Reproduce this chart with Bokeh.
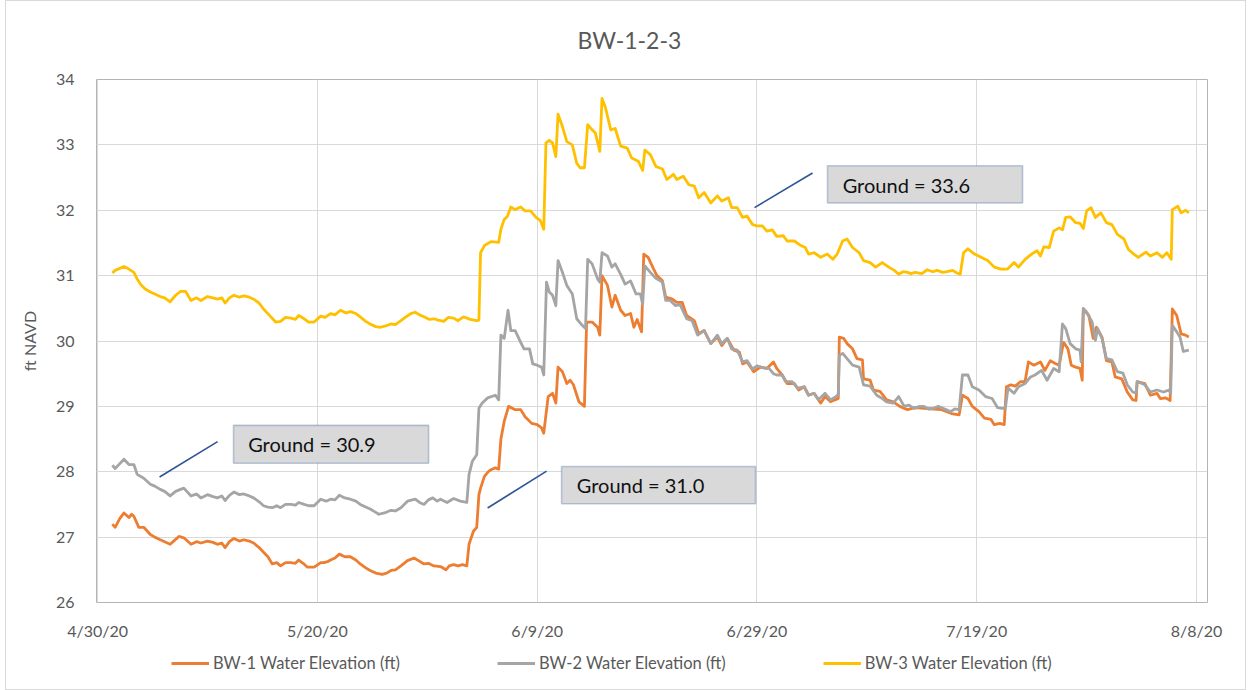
import pandas as pd
from bokeh.plotting import figure
from bokeh.layouts import column
from bokeh.models import (ColumnDataSource, FixedTicker, Legend, LegendItem,
                          BoxAnnotation, Label, Range1d)
from bokeh.embed import file_html
from bokeh.resources import INLINE

# ---------------- data ----------------
START_DATE = "2020-04-30"
x_tick_labels = ["4/30/20", "5/20/20", "6/9/20", "6/29/20", "7/19/20", "8/8/20"]
y_ticks = [26, 27, 28, 29, 30, 31, 32, 33, 34]
chart_title = "BW-1-2-3"
y_label = "ft NAVD"
series_names = ["BW-1 Water Elevation (ft)", "BW-2 Water Elevation (ft)",
                "BW-3 Water Elevation (ft)"]
series_colors = ["#ED7D31", "#A5A5A5", "#FFC000"]
ground_labels = ["Ground = 30.9", "Ground = 31.0", "Ground = 33.6"]

# days after 4/30/20
bw1_days = [1.34, 1.6, 2.0, 2.4, 2.85, 3.1, 3.3, 3.75, 4.2, 4.8, 5.2, 5.7, 6.1, 6.6, 7.0, 7.4,
            7.85, 8.5, 9.0, 9.4, 10.0, 10.5, 10.9, 11.3, 11.6, 12.0, 12.4, 12.9, 13.3, 13.8,
            14.2, 14.7, 15.1, 15.5, 15.9, 16.3, 16.65, 17.1, 17.6, 18.0, 18.3, 18.7, 19.1,
            19.7, 20.3, 20.6, 21.0, 21.2, 21.6, 22.0, 22.5, 23.0, 23.5, 23.9, 24.4, 24.8,
            25.3, 25.9, 26.3, 26.7, 27.1, 27.6, 28.2, 28.8, 29.2, 29.7, 30.1, 30.6, 31.2,
            31.7, 32.0, 32.4, 32.8, 33.2, 33.6, 33.8, 34.2, 34.5, 34.7, 34.85, 35.2, 35.6,
            35.8, 36.2, 36.5, 36.7, 37.0, 37.4, 38.0, 38.5, 38.9, 39.5, 40.0, 40.4, 40.6,
            41.0, 41.4, 41.7, 41.9, 42.3, 42.7, 43.0, 43.3, 43.8, 44.3, 44.5, 45.0, 45.5,
            45.7, 45.9, 46.4, 46.8, 47.1, 47.6, 48.0, 48.5, 48.8, 49.1, 49.5, 49.7, 50.1,
            50.6, 50.9, 51.4, 51.7, 52.3, 52.7, 53.2, 53.6, 54.3, 54.7, 55.2, 55.8, 56.4,
            56.8, 57.3, 57.9, 58.4, 58.7, 59.1, 59.7, 60.3, 60.9, 61.5, 61.8, 62.3, 62.75,
            63.4, 63.8, 64.3, 64.7, 65.2, 65.8, 66.2, 66.7, 67.1, 67.4, 67.5, 67.9, 68.2,
            68.7, 69.1, 69.6, 69.7, 70.3, 70.6, 71.2, 71.8, 72.4, 73.0, 73.7, 74.4, 75.2,
            76.1, 76.8, 77.7, 78.4, 78.7, 79.2, 79.6, 80.2, 80.7, 81.3, 81.6, 82.1, 82.5,
            82.7, 83.1, 83.5, 84.0, 84.4, 84.7, 85.2, 85.8, 86.2, 86.7, 87.1, 87.5, 87.9,
            88.3, 88.6, 89.0, 89.4, 89.6, 89.7, 90.2, 90.6, 90.9, 91.4, 91.8, 92.3, 92.6,
            93.2, 93.7, 94.2, 94.5, 94.6, 95.3, 95.8, 96.4, 96.7, 97.2, 97.6, 97.8, 98.2,
            98.6, 99.0, 99.3]
bw1_ft = [27.20, 27.15, 27.28, 27.37, 27.30, 27.35, 27.32, 27.15, 27.15, 27.04, 27.00, 26.96,
          26.93, 26.89, 26.95, 27.01, 26.99, 26.89, 26.93, 26.91, 26.94, 26.92, 26.89, 26.91,
          26.84, 26.93, 26.98, 26.94, 26.96, 26.94, 26.91, 26.84, 26.77, 26.70, 26.59, 26.61,
          26.56, 26.61, 26.61, 26.60, 26.65, 26.60, 26.54, 26.54, 26.61, 26.61, 26.63, 26.65,
          26.68, 26.74, 26.70, 26.70, 26.65, 26.59, 26.53, 26.49, 26.45, 26.43, 26.45, 26.49,
          26.50, 26.56, 26.64, 26.68, 26.64, 26.59, 26.60, 26.56, 26.55, 26.50, 26.56, 26.58,
          26.56, 26.58, 26.56, 26.89, 27.09, 27.15, 27.65, 27.75, 27.93, 28.01, 28.03, 28.06,
          28.04, 28.50, 28.77, 29.00, 28.95, 28.95, 28.84, 28.74, 28.72, 28.67, 28.59, 29.15,
          29.20, 29.05, 29.60, 29.53, 29.35, 29.40, 29.33, 29.07, 29.00, 30.29, 30.29, 30.21,
          30.09, 31.00, 30.85, 30.52, 30.70, 30.47, 30.39, 30.42, 30.21, 30.33, 30.14, 31.33,
          31.28, 31.10, 31.00, 30.92, 30.67, 30.64, 30.59, 30.59, 30.39, 30.31, 30.11, 30.16,
          29.96, 30.06, 29.93, 30.04, 29.86, 29.83, 29.65, 29.68, 29.53, 29.60, 29.58, 29.68,
          29.58, 29.48, 29.35, 29.35, 29.25, 29.30, 29.17, 29.20, 29.05, 29.15, 29.07, 29.10,
          29.12, 30.06, 30.04, 29.96, 29.88, 29.73, 29.71, 29.42, 29.40, 29.25, 29.23, 29.10,
          29.07, 29.00, 28.95, 28.98, 28.97, 28.96, 28.95, 28.89, 28.87, 29.17, 29.12, 29.00,
          28.92, 28.82, 28.80, 28.72, 28.74, 28.72, 29.30, 29.33, 29.31, 29.38, 29.38, 29.68,
          29.63, 29.68, 29.55, 29.70, 29.66, 29.63, 29.98, 29.88, 29.63, 29.60, 29.58, 29.40,
          30.49, 30.39, 30.04, 30.21, 30.06, 29.70, 29.68, 29.45, 29.42, 29.22, 29.10, 29.09,
          29.38, 29.35, 29.17, 29.20, 29.12, 29.13, 29.09, 30.49, 30.39, 30.11, 30.09, 30.06]

bw2_days = [1.34, 1.6, 2.0, 2.4, 2.85, 3.3, 3.6, 4.2, 4.8, 5.2, 5.7, 6.1, 6.6, 7.1, 7.55, 7.85,
            8.5, 9.0, 9.4, 10.0, 10.5, 10.9, 11.3, 11.6, 12.0, 12.4, 12.9, 13.3, 13.8, 14.2,
            14.7, 15.1, 15.5, 15.9, 16.3, 16.65, 17.1, 17.6, 18.0, 18.3, 18.8, 19.2, 19.7,
            20.3, 20.8, 21.2, 21.6, 22.0, 22.5, 23.0, 23.5, 23.9, 24.4, 24.8, 25.2, 25.6,
            26.1, 26.7, 27.1, 27.6, 28.2, 28.9, 29.3, 29.7, 30.1, 30.5, 30.9, 31.2, 31.8,
            32.4, 33.0, 33.6, 33.8, 34.1, 34.5, 34.7, 35.0, 35.5, 36.2, 36.5, 36.7, 37.0,
            37.35, 37.6, 38.0, 38.5, 38.8, 39.3, 39.6, 40.0, 40.4, 40.6, 40.85, 41.1, 41.4,
            41.7, 41.9, 42.3, 42.7, 43.2, 43.6, 44.1, 44.4, 44.6, 45.0, 45.5, 45.7, 45.9,
            46.4, 46.8, 47.1, 47.6, 48.0, 48.5, 49.0, 49.4, 49.6, 49.8, 50.3, 50.8, 51.4,
            51.7, 52.1, 52.6, 53.0, 53.6, 54.1, 54.6, 55.2, 55.8, 56.4, 56.8, 57.3, 57.7,
            58.2, 58.7, 59.1, 59.6, 60.0, 60.6, 61.1, 61.5, 61.8, 62.3, 62.6, 63.2, 63.7,
            64.3, 64.7, 65.2, 65.6, 66.2, 66.7, 67.1, 67.4, 67.5, 67.8, 68.2, 68.7, 69.3,
            69.7, 70.3, 70.9, 71.4, 71.8, 72.4, 72.9, 73.4, 73.8, 74.3, 74.8, 75.2, 75.6,
            76.1, 76.5, 76.8, 77.2, 77.6, 78.0, 78.4, 78.7, 79.2, 79.6, 80.2, 80.8, 81.4,
            81.9, 82.3, 82.6, 82.85, 83.4, 83.8, 84.4, 84.9, 85.3, 85.9, 86.4, 87.0, 87.5,
            87.8, 88.1, 88.5, 89.0, 89.4, 89.5, 89.7, 90.0, 90.5, 90.8, 91.0, 91.4, 91.8,
            92.3, 92.8, 93.3, 93.7, 94.2, 94.5, 94.6, 95.3, 95.8, 96.4, 97.0, 97.5, 97.65,
            97.8, 98.2, 98.5, 98.8, 99.3]
bw2_ft = [28.10, 28.05, 28.12, 28.19, 28.11, 28.11, 27.96, 27.90, 27.81, 27.78, 27.73, 27.70,
          27.63, 27.70, 27.73, 27.75, 27.63, 27.66, 27.60, 27.65, 27.62, 27.60, 27.63, 27.56,
          27.64, 27.69, 27.65, 27.66, 27.63, 27.60, 27.54, 27.48, 27.46, 27.45, 27.48, 27.45,
          27.50, 27.50, 27.49, 27.53, 27.50, 27.48, 27.48, 27.58, 27.55, 27.58, 27.57, 27.64,
          27.60, 27.58, 27.55, 27.50, 27.46, 27.43, 27.39, 27.35, 27.37, 27.41, 27.40, 27.45,
          27.55, 27.58, 27.53, 27.50, 27.57, 27.60, 27.55, 27.58, 27.53, 27.59, 27.55, 27.53,
          27.96, 28.16, 28.26, 28.97, 29.05, 29.13, 29.17, 29.10, 30.09, 30.04, 30.47, 30.16,
          30.16, 29.98, 29.88, 29.88, 29.65, 29.63, 29.60, 29.48, 30.90, 30.75, 30.70, 30.54,
          31.23, 31.05, 30.85, 30.72, 30.34, 30.24, 30.19, 31.25, 31.18, 30.95, 30.90, 31.35,
          31.30, 31.13, 31.18, 31.02, 30.87, 30.92, 30.72, 30.72, 30.56, 31.15, 31.05, 30.96,
          30.90, 30.62, 30.62, 30.54, 30.56, 30.34, 30.31, 30.09, 30.16, 29.96, 30.09, 29.96,
          30.04, 29.88, 29.86, 29.68, 29.70, 29.57, 29.62, 29.59, 29.58, 29.50, 29.48, 29.48,
          29.38, 29.38, 29.28, 29.30, 29.17, 29.20, 29.10, 29.20, 29.10, 29.14, 29.18, 29.78,
          29.81, 29.73, 29.63, 29.60, 29.33, 29.31, 29.17, 29.12, 29.07, 29.05, 29.15, 29.00,
          29.02, 28.97, 29.00, 29.00, 28.96, 28.97, 29.00, 28.98, 28.95, 28.92, 28.96, 28.95,
          29.48, 29.48, 29.30, 29.25, 29.15, 29.12, 28.98, 28.97, 28.97, 29.28, 29.20, 29.30,
          29.35, 29.45, 29.48, 29.55, 29.40, 29.58, 29.53, 30.26, 30.19, 29.96, 29.88, 29.86,
          29.68, 30.50, 30.44, 30.29, 30.01, 30.19, 30.04, 29.73, 29.71, 29.53, 29.51, 29.33,
          29.22, 29.20, 29.38, 29.33, 29.22, 29.25, 29.22, 29.25, 29.20, 30.24, 30.14, 30.06,
          29.84, 29.86]

bw3_days = [1.34, 1.6, 2.4, 2.85, 3.3, 3.6, 3.9, 4.3, 4.8, 5.2, 5.7, 6.1, 6.6, 7.1, 7.55, 8.0,
            8.5, 9.0, 9.4, 10.0, 10.5, 10.9, 11.3, 11.6, 12.0, 12.4, 12.9, 13.3, 13.8, 14.2,
            14.7, 15.1, 15.6, 16.2, 16.65, 17.1, 17.6, 18.0, 18.3, 18.8, 19.2, 19.7, 20.3,
            20.7, 21.2, 21.6, 22.1, 22.6, 23.0, 23.5, 23.9, 24.4, 24.8, 25.3, 25.75, 26.2,
            26.7, 27.1, 27.6, 28.0, 28.5, 28.9, 29.3, 29.7, 30.2, 30.6, 31.0, 31.5, 31.9,
            32.4, 32.8, 33.3, 33.9, 34.5, 34.7, 34.85, 35.2, 35.8, 36.5, 36.7, 37.0, 37.3,
            37.6, 38.0, 38.5, 38.9, 39.4, 39.9, 40.3, 40.6, 40.8, 41.1, 41.4, 41.7, 41.9,
            42.3, 42.7, 43.2, 43.6, 43.9, 44.3, 44.6, 45.0, 45.3, 45.7, 45.9, 46.2, 46.7,
            47.1, 47.6, 48.2, 48.6, 49.2, 49.6, 49.8, 50.3, 50.8, 51.4, 51.8, 52.4, 52.7,
            53.3, 53.8, 54.3, 54.7, 55.2, 55.8, 56.4, 56.8, 57.4, 57.7, 58.2, 58.7, 59.1,
            59.6, 60.0, 60.5, 60.9, 61.4, 61.8, 62.4, 62.75, 63.4, 64.0, 64.4, 64.7, 65.2,
            65.8, 66.4, 66.9, 67.3, 67.8, 68.2, 68.7, 69.3, 69.7, 70.3, 70.8, 71.4, 72.0,
            72.5, 72.9, 73.3, 73.7, 74.0, 74.4, 75.0, 75.5, 76.0, 76.4, 76.9, 77.3, 77.8,
            78.2, 78.5, 78.8, 79.2, 79.8, 80.4, 81.0, 81.6, 82.2, 82.8, 83.4, 83.8, 84.4,
            85.0, 85.5, 85.8, 86.1, 86.6, 87.0, 87.5, 87.8, 88.1, 88.5, 89.0, 89.4, 89.7,
            90.0, 90.4, 90.8, 91.3, 91.8, 92.3, 92.8, 93.4, 93.8, 94.3, 94.7, 95.4, 95.8,
            96.4, 96.9, 97.3, 97.7, 97.8, 98.3, 98.6, 99.0, 99.3]
bw3_ft = [31.04, 31.08, 31.14, 31.10, 31.05, 30.95, 30.87, 30.80, 30.75, 30.72, 30.68, 30.66,
          30.60, 30.70, 30.76, 30.76, 30.62, 30.66, 30.62, 30.68, 30.66, 30.64, 30.66, 30.58,
          30.66, 30.70, 30.67, 30.69, 30.67, 30.64, 30.58, 30.49, 30.40, 30.29, 30.30, 30.36,
          30.35, 30.33, 30.39, 30.34, 30.29, 30.29, 30.38, 30.36, 30.42, 30.40, 30.47, 30.43,
          30.45, 30.42, 30.37, 30.30, 30.26, 30.22, 30.21, 30.23, 30.26, 30.25, 30.31, 30.36,
          30.42, 30.44, 30.40, 30.37, 30.33, 30.34, 30.32, 30.30, 30.36, 30.35, 30.31, 30.37,
          30.33, 30.31, 30.32, 31.35, 31.46, 31.52, 31.51, 31.71, 31.86, 31.91, 32.05, 32.01,
          32.05, 31.99, 31.99, 31.89, 31.84, 31.71, 33.03, 33.07, 33.03, 32.82, 33.47, 33.28,
          33.05, 33.00, 32.72, 32.65, 32.65, 33.31, 33.23, 33.18, 32.90, 33.71, 33.58, 33.23,
          33.25, 32.98, 32.95, 32.80, 32.75, 32.61, 32.92, 32.85, 32.67, 32.63, 32.47, 32.55,
          32.47, 32.52, 32.39, 32.37, 32.19, 32.27, 32.11, 32.22, 32.14, 32.19, 32.04, 32.04,
          31.89, 31.91, 31.78, 31.76, 31.76, 31.68, 31.70, 31.60, 31.61, 31.53, 31.53, 31.46,
          31.43, 31.33, 31.35, 31.28, 31.33, 31.25, 31.33, 31.53, 31.56, 31.43, 31.35, 31.23,
          31.20, 31.13, 31.20, 31.13, 31.08, 31.02, 31.06, 31.05, 31.03, 31.05, 31.03, 31.09,
          31.06, 31.08, 31.05, 31.06, 31.08, 31.04, 31.02, 31.35, 31.41, 31.33, 31.28, 31.23,
          31.13, 31.10, 31.10, 31.20, 31.13, 31.25, 31.33, 31.38, 31.30, 31.44, 31.43, 31.68,
          31.73, 31.70, 31.89, 31.90, 31.81, 31.80, 31.72, 31.99, 32.04, 31.89, 31.96, 31.81,
          31.78, 31.63, 31.56, 31.40, 31.33, 31.28, 31.36, 31.30, 31.35, 31.28, 31.35, 31.25,
          32.01, 32.06, 31.96, 32.00, 31.96]

# ---------------- helpers ----------------
start = pd.Timestamp(START_DATE)


def to_dt(days):
    return start + pd.to_timedelta(pd.Series(days, dtype=float), unit="D")


def to_ms(day):
    return (start + pd.Timedelta(days=day)).timestamp() * 1000.0


tick_ms = [pd.to_datetime(t, format="%m/%d/%y").timestamp() * 1000.0 for t in x_tick_labels]

TXT = "#595959"
FONT = "Lato"
W = 1239
LINE_W = 2.8

series = [(bw1_days, bw1_ft), (bw2_days, bw2_ft), (bw3_days, bw3_ft)]
sources = [ColumnDataSource(dict(x=to_dt(d), y=v)) for d, v in series]

# ---------------- main chart ----------------
p = figure(width=W, height=641, x_axis_type="datetime", output_backend="svg",
           toolbar_location=None,
           x_range=Range1d(to_ms(-0.1), to_ms(101.0)), y_range=Range1d(26, 34),
           min_border_left=90, min_border_right=38, min_border_top=75,
           min_border_bottom=40, background_fill_color="white",
           border_fill_color="white")

p.title.text = chart_title
p.title.align = "left"
p.title.offset = 481
p.title.vertical_align = "top"
p.title.standoff = 48
p.title.text_font = FONT
p.title.text_font_size = "23px"
p.title.text_font_style = "normal"
p.title.text_color = TXT

p.outline_line_color = "#b4b4b4"
p.outline_line_width = 1

p.xaxis.ticker = FixedTicker(ticks=tick_ms)
p.xaxis.major_label_overrides = {t: lab for t, lab in zip(tick_ms, x_tick_labels)}
p.yaxis.ticker = FixedTicker(ticks=y_ticks)
for ax in (p.xaxis, p.yaxis):
    ax.axis_line_color = None
    ax.major_tick_line_color = None
    ax.minor_tick_line_color = None
    ax.major_label_text_font = FONT
    ax.major_label_text_font_size = "16px"
    ax.major_label_text_color = TXT
p.xaxis.major_label_standoff = 12
p.yaxis.major_label_standoff = 16
p.yaxis.axis_label = y_label
p.yaxis.axis_label_text_font = FONT
p.yaxis.axis_label_text_font_size = "16px"
p.yaxis.axis_label_text_font_style = "normal"
p.yaxis.axis_label_text_color = TXT
p.yaxis.axis_label_standoff = 14

p.xgrid.grid_line_color = "#d9d9d9"
p.ygrid.grid_line_color = "#d9d9d9"
p.xgrid.ticker = FixedTicker(ticks=tick_ms)

for src, col in zip(sources, series_colors):
    p.line("x", "y", source=src, line_color=col, line_width=LINE_W, line_join="round")

# ground-elevation callouts (box: left, right in days; bottom, top in ft; leader line)
callout_boxes = [(12.37, 30.12, 28.13, 28.71), (42.22, 59.87, 27.51, 28.08),
                 (66.42, 84.17, 32.11, 32.68)]
callout_text_pos = [(13.7, 28.42), (43.6, 27.795), (67.8, 32.39)]
leader_lines = [(5.64, 27.92, 10.92, 28.46), (35.49, 27.445, 40.86, 28.01),
                (59.78, 32.04, 65.06, 32.57)]
for (l, r_, b, t), (tx, ty), txt in zip(callout_boxes, callout_text_pos, ground_labels):
    p.add_layout(BoxAnnotation(left=to_ms(l), right=to_ms(r_), bottom=b, top=t,
                               fill_color="#d9d9d9", fill_alpha=1.0,
                               line_color="#2F5597", line_width=1.6))
    p.add_layout(Label(x=to_ms(tx), y=ty, text=txt, text_baseline="middle",
                       text_font=FONT, text_font_size="20px", text_color="#111111"))
lx0 = [to_ms(s[0]) for s in leader_lines]
ly0 = [s[1] for s in leader_lines]
lx1 = [to_ms(s[2]) for s in leader_lines]
ly1 = [s[3] for s in leader_lines]
p.segment(x0=lx0, y0=ly0, x1=lx1, y1=ly1, line_color="#2F5597", line_width=1.6)

# ---------------- legend strip (same series; its view window shows only the key) ----
lg = figure(width=W, height=47, output_backend="svg", toolbar_location=None,
            x_axis_location=None, y_axis_location=None,
            x_range=Range1d(0, 1), y_range=Range1d(0, 1),
            min_border_left=0, min_border_right=0, min_border_top=0,
            min_border_bottom=0, outline_line_color=None,
            background_fill_color="white", border_fill_color="white")
lg.grid.visible = False
key_renderers = [lg.line("x", "y", source=src, line_color=col, line_width=LINE_W)
                 for src, col in zip(sources, series_colors)]
legend = Legend(items=[LegendItem(label=n, renderers=[r])
                       for n, r in zip(series_names, key_renderers)],
                orientation="horizontal", location=(75, 16),
                border_line_color=None, background_fill_alpha=0,
                padding=0, margin=0, spacing=97, glyph_width=38, glyph_height=20,
                label_standoff=4, label_text_font=FONT,
                label_text_font_size="16.5px", label_text_color=TXT)
lg.add_layout(legend, "center")

layout = column(p, lg, spacing=0)
layout.styles = {"border": "1px solid #d9d9d9", "margin-left": "5px"}

open("out.html", "w").write(file_html(layout, INLINE))
